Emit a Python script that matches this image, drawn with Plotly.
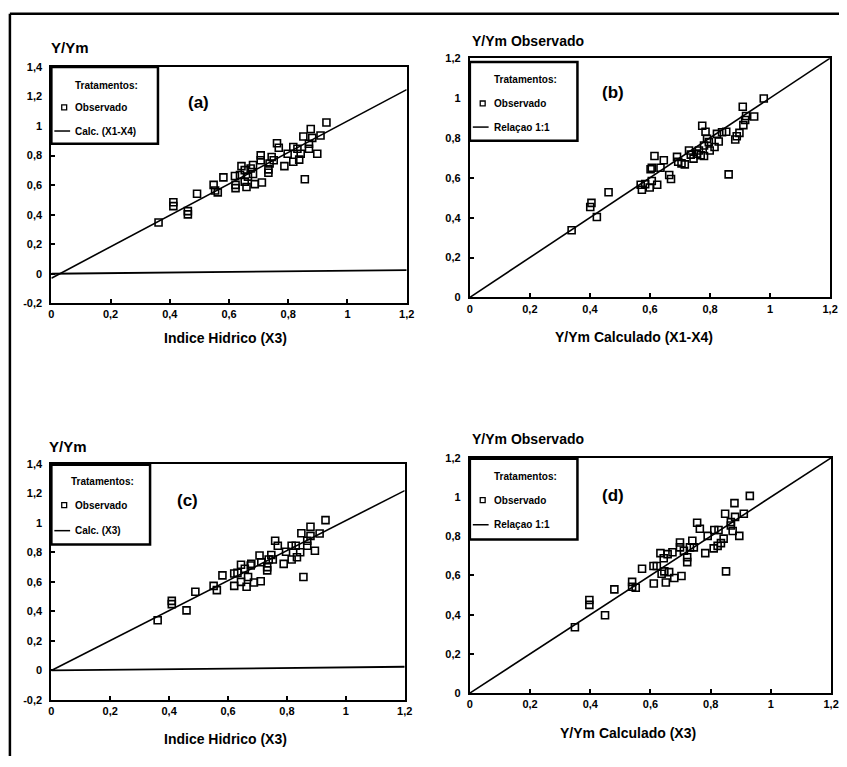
import plotly.graph_objects as go

W, H = 847, 767

# ---------------- data ----------------
obs_a_x = [0.362, 0.412, 0.412, 0.461, 0.461, 0.492, 0.548, 0.553, 0.562, 0.581,
           0.620, 0.622, 0.622, 0.637, 0.642, 0.653, 0.653, 0.659, 0.664, 0.673,
           0.681, 0.681, 0.687, 0.711, 0.707, 0.707, 0.733, 0.733, 0.737, 0.744,
           0.751, 0.762, 0.768, 0.787, 0.798, 0.817, 0.817, 0.831, 0.837, 0.842,
           0.851, 0.856, 0.870, 0.870, 0.876, 0.881, 0.898, 0.909, 0.929]
obs_a_y = [0.347, 0.484, 0.458, 0.424, 0.402, 0.542, 0.602, 0.564, 0.551, 0.653,
           0.662, 0.580, 0.602, 0.669, 0.729, 0.702, 0.624, 0.587, 0.658, 0.713,
           0.736, 0.676, 0.607, 0.618, 0.802, 0.769, 0.707, 0.684, 0.747, 0.791,
           0.769, 0.884, 0.853, 0.729, 0.813, 0.858, 0.758, 0.847, 0.773, 0.813,
           0.929, 0.640, 0.880, 0.847, 0.980, 0.920, 0.813, 0.936, 1.024]
fit_a_x = [0.0, 1.2]
fit_a_y = [-0.03, 1.247]

obs_b_x = [0.339, 0.405, 0.401, 0.423, 0.462, 0.569, 0.573, 0.584, 0.599, 0.606,
           0.602, 0.606, 0.615, 0.624, 0.635, 0.646, 0.664, 0.670, 0.690, 0.694,
           0.705, 0.716, 0.730, 0.736, 0.745, 0.756, 0.763, 0.769, 0.774, 0.785,
           0.780, 0.780, 0.790, 0.796, 0.799, 0.815, 0.829, 0.823, 0.840, 0.854,
           0.862, 0.884, 0.889, 0.898, 0.909, 0.911, 0.917, 0.920, 0.947, 0.979]
obs_b_y = [0.337, 0.474, 0.453, 0.403, 0.527, 0.565, 0.540, 0.568, 0.551, 0.584,
           0.643, 0.650, 0.709, 0.565, 0.650, 0.688, 0.614, 0.594, 0.705, 0.680,
           0.672, 0.667, 0.737, 0.716, 0.696, 0.721, 0.737, 0.713, 0.861, 0.831,
           0.762, 0.709, 0.795, 0.779, 0.737, 0.754, 0.782, 0.820, 0.828, 0.831,
           0.617, 0.792, 0.808, 0.825, 0.956, 0.864, 0.890, 0.910, 0.907, 0.998]
ref_x = [0.0, 1.2]
ref_y = [0.0, 1.2]

obs_c_x = [0.361, 0.409, 0.409, 0.459, 0.489, 0.551, 0.562, 0.581, 0.621, 0.621,
           0.632, 0.644, 0.644, 0.657, 0.663, 0.668, 0.677, 0.679, 0.688, 0.711,
           0.707, 0.713, 0.733, 0.733, 0.738, 0.747, 0.752, 0.760, 0.769, 0.789,
           0.797, 0.816, 0.816, 0.830, 0.834, 0.845, 0.849, 0.856, 0.869, 0.869,
           0.880, 0.880, 0.895, 0.911, 0.931]
obs_c_y = [0.340, 0.471, 0.449, 0.407, 0.533, 0.573, 0.544, 0.644, 0.656, 0.573,
           0.662, 0.716, 0.600, 0.689, 0.567, 0.633, 0.711, 0.722, 0.596, 0.604,
           0.778, 0.733, 0.700, 0.678, 0.751, 0.782, 0.751, 0.878, 0.844, 0.722,
           0.804, 0.844, 0.751, 0.844, 0.767, 0.800, 0.929, 0.633, 0.878, 0.844,
           0.973, 0.911, 0.811, 0.927, 1.018]
fit_c_x = [0.0, 1.2]
fit_c_y = [0.0, 1.218]

obs_d_x = [0.349, 0.397, 0.397, 0.449, 0.480, 0.539, 0.539, 0.551, 0.572, 0.610,
           0.611, 0.621, 0.633, 0.637, 0.644, 0.646, 0.651, 0.657, 0.662, 0.673,
           0.679, 0.703, 0.698, 0.698, 0.711, 0.722, 0.722, 0.731, 0.739, 0.744,
           0.755, 0.764, 0.782, 0.790, 0.810, 0.812, 0.826, 0.823, 0.834, 0.843,
           0.848, 0.851, 0.867, 0.867, 0.873, 0.881, 0.879, 0.895, 0.910, 0.930]
obs_d_y = [0.336, 0.475, 0.450, 0.397, 0.529, 0.567, 0.542, 0.537, 0.634, 0.648,
           0.559, 0.648, 0.714, 0.609, 0.688, 0.621, 0.564, 0.709, 0.617, 0.718,
           0.587, 0.597, 0.768, 0.743, 0.726, 0.693, 0.668, 0.743, 0.777, 0.743,
           0.869, 0.838, 0.714, 0.802, 0.738, 0.832, 0.832, 0.751, 0.765, 0.788,
           0.915, 0.621, 0.872, 0.855, 0.827, 0.899, 0.969, 0.802, 0.915, 1.006]

base_x = [0.0, 1.2]
base_y = [0.0, 0.025]

x_ticks = [0, 0.2, 0.4, 0.6, 0.8, 1.0, 1.2]
x_tick_text = ["0", "0,2", "0,4", "0,6", "0,8", "1", "1,2"]
y_ticks_ac = [-0.2, 0, 0.2, 0.4, 0.6, 0.8, 1.0, 1.2, 1.4]
y_tick_text_ac = ["-0,2", "0", "0,2", "0,4", "0,6", "0,8", "1", "1,2", "1,4"]
y_ticks_bd = [0, 0.2, 0.4, 0.6, 0.8, 1.0, 1.2]
y_tick_text_bd = ["0", "0,2", "0,4", "0,6", "0,8", "1", "1,2"]

# ---------------- layout helpers ----------------
FONT = "Liberation Sans, Arial, sans-serif"

def px(x):
    return x / W

def py(y):
    return 1 - y / H

# panel boxes in pixels: (left, right, top, bottom)
boxes = {
    "a": (49, 409, 62, 302),
    "b": (473, 838, 53, 296),
    "c": (49, 407, 465, 705),
    "d": (473, 839, 459, 698),
}

fig = go.Figure()

panels = [
    ("a", "x", "y", obs_a_x, obs_a_y, fit_a_x, fit_a_y, True),
    ("b", "x2", "y2", obs_b_x, obs_b_y, ref_x, ref_y, False),
    ("c", "x3", "y3", obs_c_x, obs_c_y, fit_c_x, fit_c_y, True),
    ("d", "x4", "y4", obs_d_x, obs_d_y, ref_x, ref_y, False),
]

for key, xa, ya, ox, oy, lx, ly, has_base in panels:
    if has_base:
        fig.add_trace(go.Scatter(x=base_x, y=base_y, xaxis=xa, yaxis=ya, mode="lines",
                                 line=dict(color="black", width=1.8), showlegend=False,
                                 hoverinfo="skip"))
    fig.add_trace(go.Scatter(x=lx, y=ly, xaxis=xa, yaxis=ya, mode="lines",
                             line=dict(color="black", width=1.6), showlegend=False))
    fig.add_trace(go.Scatter(x=ox, y=oy, xaxis=xa, yaxis=ya, mode="markers",
                             marker=dict(symbol="square-open", size=7, color="black",
                                         line=dict(width=1.6, color="black")),
                             showlegend=False))

axis_common = dict(showline=True, mirror=True, linecolor="black", linewidth=2,
                   ticks="inside", ticklen=4, tickwidth=1.5, tickcolor="black",
                   showgrid=False, zeroline=False,
                   tickfont=dict(family=FONT, size=11, color="black", weight="bold"))

layout = dict(width=W, height=H, margin=dict(l=0, r=0, t=0, b=0),
              plot_bgcolor="white", paper_bgcolor="white", showlegend=False)

names = {"a": ("xaxis", "yaxis"), "b": ("xaxis2", "yaxis2"),
         "c": ("xaxis3", "yaxis3"), "d": ("xaxis4", "yaxis4")}
anchors = {"a": ("y", "x"), "b": ("y2", "x2"), "c": ("y3", "x3"), "d": ("y4", "x4")}

for key, (l, r, t, b) in boxes.items():
    xn, yn = names[key]
    xanc, yanc = anchors[key]
    if key in ("a", "c"):
        yr, yt, ytt = [-0.2, 1.4], y_ticks_ac, y_tick_text_ac
    else:
        yr, yt, ytt = [0, 1.2], y_ticks_bd, y_tick_text_bd
    layout[xn] = dict(axis_common, domain=[px(l), px(r)], range=[0, 1.2], anchor=xanc,
                      tickvals=x_ticks, ticktext=x_tick_text)
    layout[yn] = dict(axis_common, domain=[py(b), py(t)], range=yr, anchor=yanc,
                      tickvals=yt, ticktext=ytt, ticklabelstandoff=5)

fig.update_layout(**layout)

annotations = []
shapes = []

def text(x, y, s, size, xanchor="center"):
    annotations.append(dict(x=px(x), y=py(y), xref="paper", yref="paper", text=s,
                            showarrow=False, xanchor=xanchor, yanchor="middle",
                            font=dict(family=FONT, size=size, color="black", weight="bold")))

# axis titles
text(47, 42, "Y/Ym", 15, "left")
text(473, 36, "Y/Ym Observado", 14, "left")
text(45, 448, "Y/Ym", 15, "left")
text(473, 440, "Y/Ym Observado", 14, "left")
text(225, 337, "Indice Hidrico (X3)", 14)
text(639, 336, "Y/Ym Calculado (X1-X4)", 14)
text(225, 745, "Indice Hidrico (X3)", 14)
text(633, 739, "Y/Ym Calculado (X3)", 14)

# panel labels
text(198, 98, "(a)", 17)
text(618, 88, "(b)", 17)
text(187, 502, "(c)", 17)
text(618, 497, "(d)", 17)

# legend boxes
legends = [
    # left, right, top, bottom, rows y, second label
    (49, 157, 62, 140, (81, 103, 127), "Calc. (X1-X4)"),
    (473, 582, 57, 137, (75, 99, 123), "Relaçao 1:1"),
    (49, 149, 466, 547, (483, 507, 533), "Calc. (X3)"),
    (473, 582, 460, 542, (478, 502, 527), "Relaçao 1:1"),
]
for l, r, t, b, rows, lab in legends:
    shapes.append(dict(type="rect", xref="paper", yref="paper", x0=px(l), x1=px(r),
                       y0=py(b), y1=py(t), line=dict(color="black", width=2.5),
                       fillcolor="white", layer="above"))
    text((l + r) / 2 + 2, rows[0], "Tratamentos:", 10)
    # square sample
    sx = l + 13
    shapes.append(dict(type="rect", xref="paper", yref="paper", x0=px(sx - 2.5), x1=px(sx + 2.5),
                       y0=py(rows[1] + 2.5), y1=py(rows[1] - 2.5),
                       line=dict(color="black", width=1.3), layer="above"))
    text(l + 22, rows[1], "Observado", 10, "left")
    # line sample
    shapes.append(dict(type="line", xref="paper", yref="paper", x0=px(l + 3), x1=px(l + 19),
                       y0=py(rows[2]), y1=py(rows[2]), line=dict(color="black", width=1.5),
                       layer="above"))
    text(l + 22, rows[2], lab, 10, "left")

# figure frame (top and left border lines)
shapes.append(dict(type="line", xref="paper", yref="paper", x0=px(7), x1=1,
                   y0=py(8), y1=py(8), line=dict(color="black", width=2.5)))
shapes.append(dict(type="line", xref="paper", yref="paper", x0=px(7), x1=px(7),
                   y0=py(8), y1=py(762), line=dict(color="black", width=2.5)))

fig.update_layout(annotations=annotations, shapes=shapes)
fig.write_html("out.html")
